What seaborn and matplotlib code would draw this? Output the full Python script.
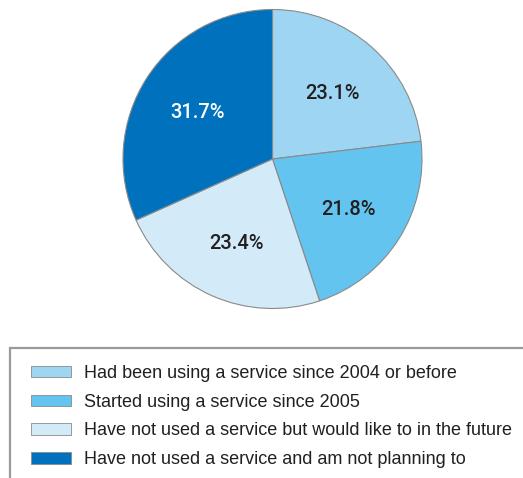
import matplotlib
matplotlib.use("Agg")
import matplotlib.pyplot as plt
from matplotlib.patches import Rectangle
import seaborn as sns

categories = [
    "Had been using a service since 2004 or before",
    "Started using a service since 2005",
    "Have not used a service but would like to in the future",
    "Have not used a service and am not planning to",
]
values = [23.1, 21.8, 23.4, 31.7]
colors = ["#9dd5f2", "#62c4ef", "#d3eaf8", "#0071bc"]
label_colors = ["#231f20", "#231f20", "#231f20", "#ffffff"]

sns.set_theme(style="white")
plt.rcParams["font.family"] = ["Liberation Sans", "DejaVu Sans"]

W, H = 523, 478
fig = plt.figure(figsize=(W / 100, H / 100), dpi=100)
fig.patch.set_facecolor("white")

cx, cy, r = 272.5, 159.0, 149.5
ax = fig.add_axes([(cx - r) / W, (H - cy - r) / H, 2 * r / W, 2 * r / H])
palette = sns.color_palette(colors)
wedges, texts, autotexts = ax.pie(
    values,
    colors=palette,
    startangle=90,
    counterclock=False,
    autopct="%.1f%%",
    pctdistance=0.6,
    wedgeprops=dict(edgecolor="#8a8a8a", linewidth=0.8),
    textprops=dict(fontsize=14.5, family=["Roboto", "Liberation Sans"], fontweight="medium"),
)
for t, c in zip(autotexts, label_colors):
    t.set_color(c)
    t.set_va("center_baseline")
ax.set_xlim(-1, 1)
ax.set_ylim(-1, 1)
ax.set_aspect("equal")
ax.axis("off")

# legend frame
fig.patches.append(Rectangle((10 / W, -0.05), 1.0, (H - 348) / H + 0.05,
                             transform=fig.transFigure, facecolor="none",
                             edgecolor="#9a9a9a", linewidth=1.6, zorder=0))

handles = [Rectangle((0, 0), 1, 1, facecolor=c, edgecolor="#8a8a8a", linewidth=0.6)
           for c in palette]
fig.legend(handles, categories, loc="upper left",
           bbox_to_anchor=(31 / W, (H - 365) / H),
           frameon=False, fontsize=13, handlelength=2.2, handleheight=0.6,
           handletextpad=0.72, labelspacing=0.65, borderpad=0, borderaxespad=0,
           labelcolor="#231f20")

fig.savefig("out.png", dpi=100)
